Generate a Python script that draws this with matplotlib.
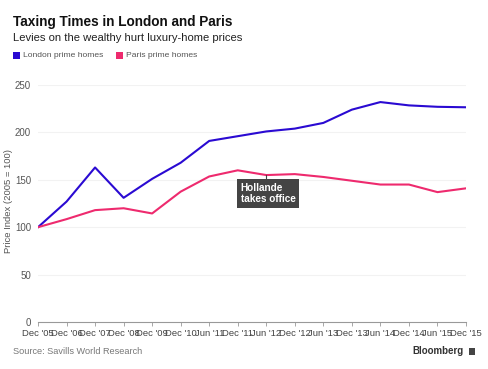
import numpy as np
import matplotlib
matplotlib.use('Agg')
import matplotlib.pyplot as plt
from matplotlib.patches import Rectangle

plt.rcParams['font.family'] = ['Liberation Sans', 'DejaVu Sans']

dates = ["Dec '05", "Dec '06", "Dec '07", "Dec '08", "Dec '09", "Dec '10",
         "Jun '11", "Dec '11", "Jun '12", "Dec '12", "Jun '13", "Dec '13",
         "Jun '14", "Dec '14", "Jun '15", "Dec '15"]
london = [100, 127, 163, 131, 151, 168, 191, 196, 201, 204, 210, 224,
          232, 228.5, 227, 226.5]
paris = [100, 108.5, 118, 120, 114.5, 137.5, 153.5, 160, 155, 156, 153,
         149, 145, 145, 137, 141]
yticks = [0, 50, 100, 150, 200, 250]

c_london = '#2a0ad2'
c_paris = '#ee2a6e'

fig = plt.figure(figsize=(4.88, 3.69), dpi=100)
ax = fig.add_axes([38 / 488, 47 / 369, 428 / 488, 237 / 369])

x = np.arange(len(dates))
ax.plot(x, london, color=c_london, lw=1.5, solid_joinstyle='round')
ax.plot(x, paris, color=c_paris, lw=1.5, solid_joinstyle='round')

ax.set_xlim(0, len(dates) - 1)
ax.set_ylim(0, 250)
ax.set_yticks(yticks)
ax.set_xticks(x)
ax.set_xticklabels(dates)
ax.tick_params(axis='x', length=3, width=0.6, color='#999999', pad=2,
               labelsize=6.8, labelcolor='#444444')
ax.tick_params(axis='y', length=0, pad=5, labelsize=7, labelcolor='#555555')
for y in yticks[1:]:
    ax.axhline(y, color='#f2f2f2', lw=0.8, zorder=0)
for s in ['top', 'right', 'left']:
    ax.spines[s].set_visible(False)
ax.spines['bottom'].set_color('#999999')
ax.spines['bottom'].set_linewidth(0.8)
ax.set_ylabel('Price Index (2005 = 100)', fontsize=6.8, color='#555555')
ax.yaxis.set_label_coords(-25 / 428, 0.51)

# annotation for Hollande
ix = dates.index("Jun '12")
ax.plot([ix, ix], [paris[ix], 151], color='#444444', lw=0.8)
ax.text(7.1, 147, 'Hollande\ntakes office', fontsize=7.2, color='white',
        va='top', ha='left', linespacing=1.2, fontweight='bold',
        bbox=dict(boxstyle='square,pad=0.4', fc='#444444', ec='none'))

fig.text(13 / 488, 1 - 22 / 369, 'Taxing Times in London and Paris', fontsize=9.8,
         fontweight='bold', va='center', ha='left', color='#111111')
fig.text(13 / 488, 1 - 38 / 369, 'Levies on the wealthy hurt luxury-home prices',
         fontsize=8.1, va='center', ha='left', color='#222222')

# legend
for lx, col, lab in [(13, c_london, 'London prime homes'), (116, c_paris, 'Paris prime homes')]:
    fig.patches.append(Rectangle((lx / 488, 1 - 59 / 369), 7 / 488, 7 / 369,
                                 transform=fig.transFigure, fc=col, ec='none'))
    fig.text((lx + 10) / 488, 1 - 55.5 / 369, lab, fontsize=6.1, va='center',
             ha='left', color='#555555')

fig.text(13 / 488, 1 - 351 / 369, 'Source: Savills World Research', fontsize=6.6,
         va='center', ha='left', color='#777777')
fig.text(464 / 488, 1 - 351 / 369, 'Bloomberg', fontsize=7, fontweight='bold',
         va='center', ha='right', color='#333333')
fig.patches.append(Rectangle((469 / 488, 1 - 355 / 369), 6 / 488, 7 / 369,
                             transform=fig.transFigure, fc='#444444', ec='none'))

fig.savefig('out.png', dpi=100, facecolor='white')
